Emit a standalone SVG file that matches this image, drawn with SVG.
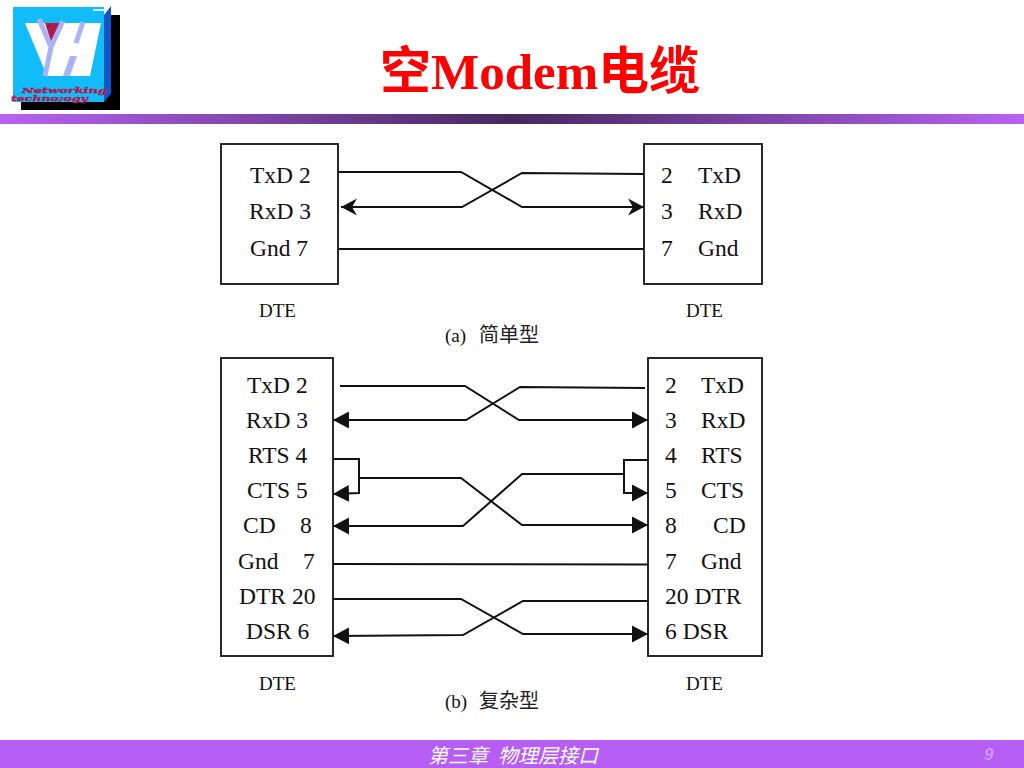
<svg xmlns="http://www.w3.org/2000/svg" width="1024" height="768" viewBox="0 0 1024 768">
<style>
.t{font-family:"Liberation Serif","Noto Sans CJK SC",serif;font-size:23.500px;fill:#111}
.s{font-family:"Liberation Serif","Noto Sans CJK SC",serif;font-size:19px;fill:#111}
.c{font-family:"Noto Sans CJK SC",sans-serif;font-size:20px;fill:#222}
.box{fill:#fff;stroke:#111;stroke-width:1.800}
.w{fill:none;stroke:#111;stroke-width:2}
.f{font-family:"Noto Sans CJK SC",sans-serif;font-style:italic;font-size:20px;fill:#fff}
.l{font-family:"DejaVu Serif",serif;font-weight:bold;font-style:italic;font-size:8px;fill:#b01a50;stroke:#b01a50;stroke-width:0.400}
</style>
<defs>
<linearGradient id="bar" x1="0" x2="1" y1="0" y2="0">
<stop offset="0" stop-color="#b862f2"/><stop offset="0.5" stop-color="#46285f"/><stop offset="1" stop-color="#b862f2"/>
</linearGradient>
<marker id="a" markerUnits="userSpaceOnUse" markerWidth="18" markerHeight="18" refX="16" refY="9" orient="auto-start-reverse" viewBox="0 0 18 18"><path d="M0 0.500L16 9L0 17.500Z" fill="#111"/></marker>
<marker id="n" markerUnits="userSpaceOnUse" markerWidth="18" markerHeight="18" refX="16" refY="9" orient="auto-start-reverse" viewBox="0 0 18 18"><path d="M0 0.500L16 9L0 17.500L5 9Z" fill="#111"/></marker>
</defs>
<rect width="1024" height="768" fill="#fff"/>
<g id="logo">
<rect x="21" y="15" width="99" height="95" fill="#000"/>
<path d="M104 15L111 6V94L104 102Z" fill="#0f56c8"/>
<rect x="13" y="7" width="91" height="95" fill="#12bcf8"/>
<rect x="93" y="9" width="11" height="2" fill="#cdf2ff"/>
<path d="M25 23H101L90 76H47Z" fill="#fff"/>
<path d="M45 23H60L52 45Z" fill="#b01a50"/>
<path d="M39 19L51 47L45 76M63 21L51 47" fill="none" stroke="#aab4f4" stroke-width="5"/>
<path d="M83 22L76 43" fill="none" stroke="#aab4f4" stroke-width="5"/>
<path d="M70 56H77L70 76H63Z" fill="#aab4f4"/>
<text class="l" x="22" y="92.500" textLength="85" lengthAdjust="spacingAndGlyphs">Networking</text>
<text class="l" x="11" y="101" textLength="77" lengthAdjust="spacingAndGlyphs">techno;ogy</text>
</g>
<text id="title" x="380" y="89" font-family="'Liberation Serif','Noto Sans CJK SC',serif" font-weight="bold" font-size="51" fill="#ff0000">空Modem电缆</text>
<rect id="topbar" x="0" y="114" width="1024" height="10" fill="url(#bar)"/>

<g id="node-a-left">
<rect class="box" x="221" y="144" width="117" height="140"/>
<text class="t" x="250" y="183">TxD 2</text>
<text class="t" x="249" y="219">RxD 3</text>
<text class="t" x="250" y="256">Gnd 7</text>
</g>
<g id="node-a-right">
<rect class="box" x="644" y="144" width="118" height="140"/>
<text class="t" x="661" y="183">2</text><text class="t" x="698" y="183">TxD</text>
<text class="t" x="661" y="219">3</text><text class="t" x="698" y="219">RxD</text>
<text class="t" x="661" y="256">7</text><text class="t" x="698" y="256">Gnd</text>
</g>
<g id="node-b-left">
<rect class="box" x="221" y="358" width="112" height="298"/>
<text class="t" x="247" y="393">TxD 2</text>
<text class="t" x="246" y="428">RxD 3</text>
<text class="t" x="248" y="463">RTS 4</text>
<text class="t" x="247" y="498">CTS 5</text>
<text class="t" x="243" y="533">CD</text><text class="t" x="300" y="533">8</text>
<text class="t" x="238" y="569">Gnd</text><text class="t" x="303" y="569">7</text>
<text class="t" x="239" y="604">DTR 20</text>
<text class="t" x="246" y="639">DSR 6</text>
</g>
<g id="node-b-right">
<rect class="box" x="648" y="358" width="114" height="298"/>
<text class="t" x="665" y="393">2</text><text class="t" x="701" y="393">TxD</text>
<text class="t" x="665" y="428">3</text><text class="t" x="701" y="428">RxD</text>
<text class="t" x="665" y="463">4</text><text class="t" x="701" y="463">RTS</text>
<text class="t" x="665" y="498">5</text><text class="t" x="701" y="498">CTS</text>
<text class="t" x="665" y="533">8</text><text class="t" x="713" y="533">CD</text>
<text class="t" x="665" y="569">7</text><text class="t" x="701" y="569">Gnd</text>
<text class="t" x="665" y="604">20 DTR</text>
<text class="t" x="665" y="639">6 DSR</text>
</g>

<g id="connectors">
<path class="w" d="M339 172H461L522 207H644" marker-end="url(#n)"/>
<path class="w" d="M341 207H462L522 173L644 174" marker-start="url(#n)"/>
<path class="w" d="M339 249H644"/>

<path class="w" d="M340 386H465L519 420H648" marker-end="url(#a)"/>
<path class="w" d="M333 420H466L520 387L645 388" marker-start="url(#a)"/>
<path class="w" d="M333 459H359V493L333 494" marker-end="url(#a)"/>
<path class="w" d="M360 478H461L522 525H648" marker-end="url(#a)"/>
<path class="w" d="M333 526H463L522 474H624" marker-start="url(#a)"/>
<path class="w" d="M648 460H624V493H648" marker-end="url(#a)"/>
<path class="w" d="M333 564L648 564.500"/>
<path class="w" d="M333 599H461L523 634H648" marker-end="url(#a)"/>
<path class="w" d="M333 636L463 635L523 601H648" marker-start="url(#a)"/>
</g>

<g id="captions">
<text class="s" x="259" y="317">DTE</text>
<text class="s" x="686" y="317">DTE</text>
<text class="s" x="445" y="342">(a)</text><text class="c" x="479" y="342">简单型</text>
<text class="s" x="259" y="690">DTE</text>
<text class="s" x="686" y="690">DTE</text>
<text class="s" x="445" y="708">(b)</text><text class="c" x="479" y="708">复杂型</text>
</g>

<g id="footer">
<rect x="0" y="740" width="1024" height="28" fill="#b65ef4"/>
<text class="f" x="428" y="763">第三章</text><text class="f" x="498" y="763">物理层接口</text>
<text x="984" y="760" font-family="'Liberation Sans',sans-serif" font-weight="bold" font-style="italic" font-size="17" fill="#cf95f6">9</text>
</g>
</svg>
